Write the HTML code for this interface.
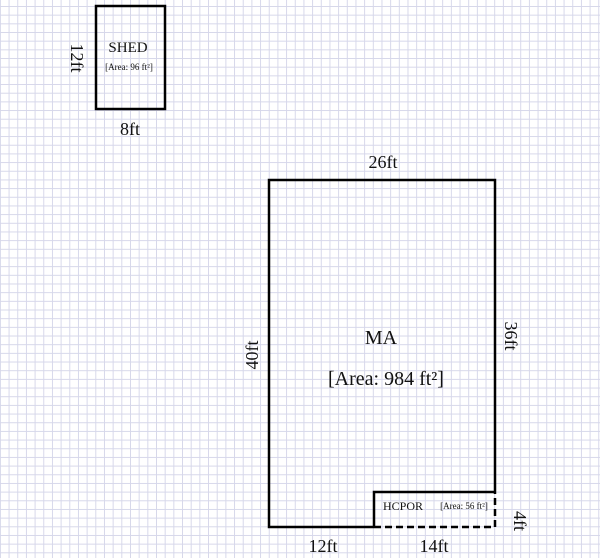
<!DOCTYPE html>
<html><head><style>
html,body{margin:0;padding:0;background:#fff;}
body{width:600px;height:558px;overflow:hidden;position:relative;
background-image:linear-gradient(to right,#d6d7ea 1px,transparent 1px),linear-gradient(to bottom,#d6d7ea 1px,transparent 1px);
background-size:8.68px 8.68px;background-position:8.6px 6px;}
svg{position:absolute;left:0;top:0;}
text{font-family:"Liberation Serif",serif;fill:#111;}
</style></head><body>
<svg width="600" height="558" viewBox="0 0 600 558">
<g stroke="#000" stroke-width="2.5" fill="none">
<rect x="96" y="6" width="69" height="103"/>
<polyline points="374,527 269,527 269,180 495,180 495,492"/>
<polyline points="374,527 374,492 495,492"/>
<path d="M374,527 H495 V492" stroke-dasharray="7,4"/>
</g>
<text x="128" y="52" font-size="15" text-anchor="middle">SHED</text>
<text x="129" y="70" font-size="9" text-anchor="middle">[Area: 96 ft²]</text>
<text x="130" y="135" font-size="18" text-anchor="middle">8ft</text>
<text transform="translate(71,58) rotate(90)" font-size="18" text-anchor="middle">12ft</text>
<text x="383" y="168" font-size="18" text-anchor="middle">26ft</text>
<text x="381" y="344" font-size="20" text-anchor="middle">MA</text>
<text x="386" y="385" font-size="20" text-anchor="middle">[Area: 984 ft²]</text>
<text transform="translate(258,355) rotate(-90)" font-size="18" text-anchor="middle">40ft</text>
<text transform="translate(505,336) rotate(90)" font-size="18" text-anchor="middle">36ft</text>
<text x="403" y="510" font-size="12" text-anchor="middle">HCPOR</text>
<text x="464" y="509" font-size="9" text-anchor="middle">[Area: 56 ft²]</text>
<text x="323" y="552" font-size="18" text-anchor="middle">12ft</text>
<text x="434" y="552" font-size="18" text-anchor="middle">14ft</text>
<text transform="translate(514,521) rotate(90)" font-size="18" text-anchor="middle">4ft</text>
</svg>
</body></html>
